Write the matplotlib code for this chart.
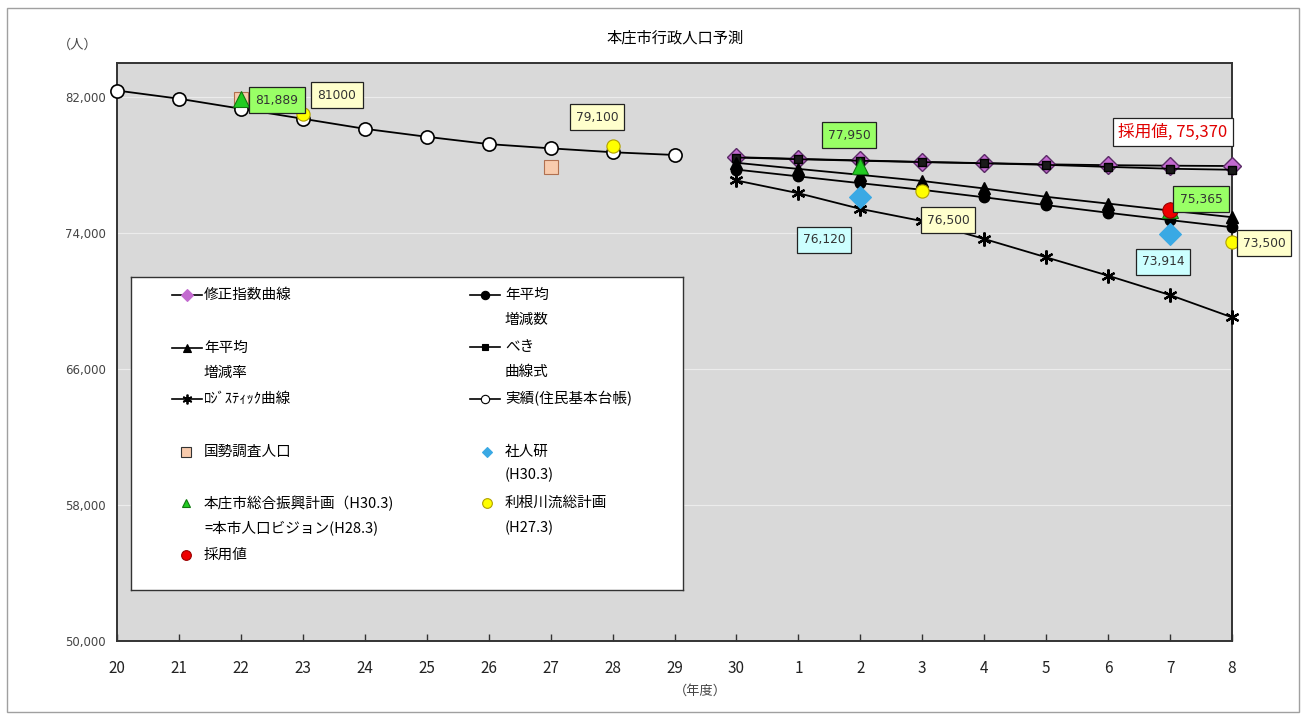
import matplotlib
matplotlib.use("Agg")
import matplotlib.pyplot as plt
from matplotlib.lines import Line2D
from matplotlib.patches import Rectangle

plt.rcParams['font.family'] = ['Noto Sans CJK JP', 'DejaVu Sans']

# ---------------- data ----------------
categories = ['20', '21', '22', '23', '24', '25', '26', '27', '28', '29',
              '30', '1', '2', '3', '4', '5', '6', '7', '8']
actual_cats = ['20', '21', '22', '23', '24', '25', '26', '27', '28', '29']
actual_vals = [82380, 81900, 81310, 80720, 80130, 79660, 79230, 78980, 78750, 78590]

proj_cats = ['30', '1', '2', '3', '4', '5', '6', '7', '8']
modexp_vals = [78460, 78360, 78270, 78180, 78110, 78040, 77990, 77960, 77940]
power_vals = [78440, 78340, 78250, 78170, 78100, 78010, 77890, 77780, 77720]
rate_vals = [78130, 77770, 77420, 77060, 76620, 76130, 75730, 75320, 74930]
number_vals = [77730, 77330, 76930, 76540, 76100, 75640, 75190, 74760, 74340]
logistic_vals = [77090, 76340, 75420, 74700, 73650, 72570, 71490, 70350, 69040]

census_cats = ['22', '27']
census_vals = [81889, 77881]
plan_cats = ['22', '2', '7']
plan_vals = [81889, 77950, 75365]
tone_cats = ['23', '28', '3', '8']
tone_vals = [81000, 79100, 76500, 73500]
ipss_cats = ['2', '7']
ipss_vals = [76120, 73914]
adopt_cats = ['7']
adopt_vals = [75370]

yticks = [50000, 58000, 66000, 74000, 82000]

pos = {c: i for i, c in enumerate(categories)}
def X(cats):
    return [pos[c] for c in cats]

# ---------------- figure ----------------
W, H = 1305, 715
fig = plt.figure(figsize=(W / 100, H / 100), dpi=100)
fig.patch.set_facecolor('white')
fig.add_artist(Rectangle((7 / W, 3 / H), 1292 / W, 704 / H, transform=fig.transFigure,
                         fill=False, ec='#a0a0a0', lw=1.0))

ax = fig.add_axes([117 / W, 1 - 641 / H, (1232 - 117) / W, (641 - 63) / H])
ax.set_facecolor('#d9d9d9')
ax.set_xlim(0, len(categories) - 1)
ax.set_ylim(50000, 84000)

ax.set_yticks(yticks)
ax.set_yticklabels([f'{v:,}' for v in yticks], fontsize=8.5, color='#444444',
                   family='DejaVu Sans')
ax.tick_params(axis='y', length=0, pad=8)
ax.set_xticks(range(len(categories)))
ax.set_xticklabels(categories, fontsize=11, color='#222222', family='Noto Sans CJK JP')
ax.tick_params(axis='x', direction='in', length=5, width=1, color='#333333', pad=14)
ax.grid(axis='y', color='#ececec', lw=0.8)
ax.set_axisbelow(True)
for s in ax.spines.values():
    s.set_color('#333333')
    s.set_linewidth(1.4)

lw = 1.3
# projection series
ax.plot(X(proj_cats), modexp_vals, color='black', lw=lw, marker='D', ms=9,
        mfc='#c36ad0', mec='#5a2a66', mew=1.0, clip_on=False, zorder=3)
ax.plot(X(proj_cats), power_vals, color='black', lw=lw, marker='s', ms=5.5,
        mfc='#1a1a1a', mec='black', clip_on=False, zorder=4)
ax.plot(X(proj_cats), number_vals, color='black', lw=lw, marker='o', ms=7.5,
        mfc='black', mec='black', clip_on=False, zorder=4)
ax.plot(X(proj_cats), rate_vals, color='black', lw=lw, marker='^', ms=8,
        mfc='black', mec='black', clip_on=False, zorder=4)
ax.plot(X(proj_cats), logistic_vals, color='black', lw=lw, marker=(6, 2, 0), ms=10,
        mec='black', mew=1.6, clip_on=False, zorder=4)
# actual
ax.plot(X(actual_cats), actual_vals, color='black', lw=lw, marker='o', ms=9.5,
        mfc='white', mec='black', mew=1.2, clip_on=False, zorder=4)
# point series
ax.plot(X(census_cats), census_vals, ls='none', marker='s', ms=10,
        mfc='#f8cbad', mec='#b07050', mew=0.8, clip_on=False, zorder=5)
ax.plot(X(plan_cats), plan_vals, ls='none', marker='^', ms=11,
        mfc='#22cc22', mec='#117711', mew=0.8, clip_on=False, zorder=6)
ax.plot(X(tone_cats), tone_vals, ls='none', marker='o', ms=9.5,
        mfc='#ffff00', mec='#b0a000', mew=0.8, clip_on=False, zorder=6)
ax.plot(X(ipss_cats), ipss_vals, ls='none', marker='D', ms=11,
        mfc='#3aa9e4', mec='#3aa9e4', mew=0.8, clip_on=False, zorder=6)
ax.plot(X(adopt_cats), adopt_vals, ls='none', marker='o', ms=11,
        mfc='#ee0000', mec='#990000', mew=0.8, clip_on=False, zorder=7)

# data label boxes (pixel centre -> data coords)
def px2data(px, py):
    return (px - 117) / ((1232 - 117) / (len(categories) - 1)), 50000 + (641 - py) * 34000 / (641 - 63)

labels = [
    ('81,889', 277, 100, '#99ff66'),
    ('81000', 337, 95, '#ffffcc'),
    ('79,100', 597, 117, '#ffffcc'),
    ('77,950', 849, 135, '#99ff66'),
    ('76,120', 824, 240, '#ccffff'),
    ('76,500', 948, 220, '#ffffcc'),
    ('75,365', 1201, 199, '#99ff66'),
    ('73,914', 1163, 262, '#ccffff'),
    ('73,500', 1264, 243, '#ffffcc'),
]
for txt, px, py, fc in labels:
    xd, yd = px2data(px, py)
    ax.text(xd, yd, txt, ha='center', va='center', fontsize=8.8, color='#333333',
            family='DejaVu Sans', zorder=8, clip_on=False,
            bbox=dict(boxstyle='square,pad=0.5', fc=fc, ec='#222222', lw=0.9))
xd, yd = px2data(1173, 132)
ax.text(xd, yd, '採用値, 75,370', ha='center', va='center', fontsize=12, color='#e00000',
        zorder=8, clip_on=False,
        bbox=dict(boxstyle='square,pad=0.3', fc='white', ec='#222222', lw=0.9))

# titles
fig.text(675 / W, 1 - 38 / H, '本庄市行政人口予測', ha='center', va='center', fontsize=11)
fig.text(78 / W, 1 - 45 / H, '（人）', ha='center', va='center', fontsize=9.5, color='#444444')
fig.text(700 / W, 1 - 691 / H, '（年度）', ha='center', va='center', fontsize=9.5, color='#444444')

# ---------------- legend (manual, in pixel coords) ----------------
L0, T0, R0, B0 = 131, 277, 683, 590
lax = fig.add_axes([L0 / W, 1 - B0 / H, (R0 - L0) / W, (B0 - T0) / H])
lax.set_xlim(L0, R0)
lax.set_ylim(B0, T0)
lax.set_facecolor('white')
lax.set_xticks([])
lax.set_yticks([])
for s in lax.spines.values():
    s.set_color('#333333')
    s.set_linewidth(1.0)

fs = 10.5
def leg_line(x0, y, marker, ms, mfc, mec, mew=0.8):
    lax.add_line(Line2D([x0, x0 + 30], [y, y], color='black', lw=1.2))
    lax.add_line(Line2D([x0 + 15], [y], marker=marker, ms=ms, mfc=mfc, mec=mec, mew=mew, ls='none'))

def leg_pt(x, y, marker, ms, mfc, mec, mew=0.8):
    lax.add_line(Line2D([x], [y], marker=marker, ms=ms, mfc=mfc, mec=mec, mew=mew, ls='none'))

def leg_text(x, ys, lines):
    for yy, t in zip(ys, lines):
        lax.text(x, yy, t, ha='left', va='center', fontsize=fs)

# left column
lx, tx = 172, 204
leg_line(lx, 295, 'D', 6, '#c36ad0', '#c36ad0')
leg_text(tx, [295], ['修正指数曲線'])
leg_line(lx, 348, '^', 6, 'black', 'black')
leg_text(tx, [348, 373], ['年平均', '増減率'])
leg_line(lx, 399, (6, 2, 0), 7, 'black', 'black', 1.3)
leg_text(tx, [399], ['ﾛｼﾞｽﾃｨｯｸ曲線'])
leg_pt(186, 452, 's', 7, '#f8cbad', '#333333')
leg_text(tx, [452], ['国勢調査人口'])
leg_pt(186, 503, '^', 6, '#22cc22', '#117711')
leg_text(tx, [503, 528], ['本庄市総合振興計画（H30.3)', '=本市人口ビジョン(H28.3)'])
leg_pt(186, 555, 'o', 7, '#ee0000', '#990000')
leg_text(tx, [555], ['採用値'])

# right column
rx, rtx = 470, 505
leg_line(rx, 295, 'o', 6, 'black', 'black')
leg_text(rtx, [295, 320], ['年平均', '増減数'])
leg_line(rx, 347, 's', 5, 'black', 'black')
leg_text(rtx, [347, 372], ['べき', '曲線式'])
leg_line(rx, 399, 'o', 6, 'white', 'black')
leg_text(rtx, [399], ['実績(住民基本台帳)'])
leg_pt(487, 452, 'D', 5.5, '#3aa9e4', '#3aa9e4')
leg_text(rtx, [452, 475], ['社人研', '(H30.3)'])
leg_pt(487, 503, 'o', 7, '#ffff00', '#b0a000')
leg_text(rtx, [503, 528], ['利根川流総計画', '(H27.3)'])

fig.savefig('out.png', dpi=100)
